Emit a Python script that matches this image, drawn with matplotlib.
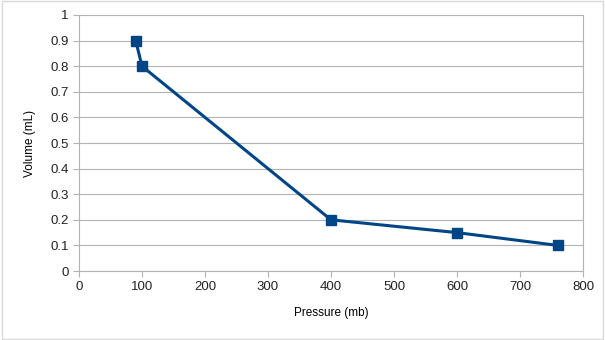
import matplotlib
matplotlib.use("Agg")
import matplotlib.pyplot as plt
from matplotlib.patches import Rectangle

plt.rcParams['font.family'] = ['Liberation Sans', 'DejaVu Sans']

# data
pressure = [90, 100, 400, 600, 760]
volume = [0.9, 0.8, 0.2, 0.15, 0.1]
x_ticks = [0, 100, 200, 300, 400, 500, 600, 700, 800]
y_ticks = [0, 0.1, 0.2, 0.3, 0.4, 0.5, 0.6, 0.7, 0.8, 0.9, 1]
y_tick_labels = ["0", "0.1", "0.2", "0.3", "0.4", "0.5", "0.6", "0.7", "0.8", "0.9", "1"]

LINE_COLOR = "#004586"
GRID_COLOR = "#b3b3b3"

fig = plt.figure(figsize=(6.05, 3.40), dpi=100, facecolor="white")
fig.patches.append(Rectangle((0.003, 0.003), 0.994, 0.994, transform=fig.transFigure,
                             fill=False, edgecolor="#d9d9d9", linewidth=1.0))
ax = fig.add_axes([0.1306, 0.2029, 0.833, 0.753])

ax.plot(pressure, volume, color=LINE_COLOR, linewidth=2.2,
        marker="s", markersize=7.5, markerfacecolor=LINE_COLOR,
        markeredgecolor=LINE_COLOR, zorder=3)

ax.set_xlim(0, 800)
ax.set_ylim(0, 1)
ax.set_xticks(x_ticks)
ax.set_yticks(y_ticks)
ax.set_yticklabels(y_tick_labels)

ax.grid(axis="y", color=GRID_COLOR, linewidth=0.8)
ax.set_axisbelow(True)
for side in ["left", "bottom", "right"]:
    ax.spines[side].set_color(GRID_COLOR)
    ax.spines[side].set_linewidth(0.8)
ax.spines["top"].set_visible(False)
ax.tick_params(axis="both", colors=GRID_COLOR, labelcolor="#222222",
               labelsize=9.5, length=4, width=0.8, direction="out")

ax.set_xlabel("Pressure (mb)", fontsize=8.5, labelpad=10)
ax.set_ylabel("Volume (mL)", fontsize=8.5, labelpad=10)

fig.savefig("out.png", dpi=100, facecolor="white")
